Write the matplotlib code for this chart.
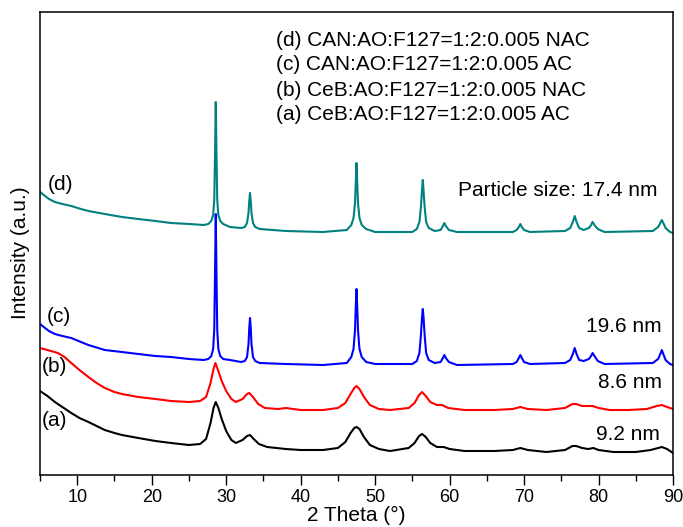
import numpy as np
import matplotlib
matplotlib.use('Agg')
import matplotlib.pyplot as plt

plt.rcParams['font.family'] = ['Liberation Sans', 'DejaVu Sans']

# XRD patterns (2 theta in degrees, intensity in a.u.)
tt_d = [5.0, 5.5, 6.2, 7.0, 8.0, 9.2, 10.5, 11.5, 13.7, 16.0, 18.2, 20.5, 22.6, 25.0,
        27.0, 27.6, 28.0, 28.25, 28.4, 28.5, 28.6, 28.7, 28.8, 28.95, 29.2, 29.6,
        30.5, 32.0, 32.5, 32.8, 33.0, 33.1, 33.2, 33.3, 33.4, 33.6, 33.9, 34.5,
        38.0, 43.0, 46.2, 46.8, 47.1, 47.3, 47.4, 47.5, 47.6, 47.7, 47.9, 48.2,
        48.8, 50.0, 55.0, 55.6, 55.95, 56.15, 56.3, 56.4, 56.5, 56.65, 56.85,
        57.2, 58.0, 58.8, 59.1, 59.3, 59.5, 59.9, 61.0, 68.5, 69.0, 69.3, 69.5,
        69.7, 70.0, 70.8, 75.5, 76.2, 76.55, 76.8, 77.05, 77.4, 78.0, 78.7, 79.0,
        79.2, 79.45, 79.9, 80.8, 87.3, 88.0, 88.3, 88.5, 88.7, 89.0, 89.6, 90.0]
int_d = [283, 280, 276, 273, 271, 269, 266, 264, 261, 258, 256, 254, 252, 251,
         250, 251, 254, 260, 275, 320, 373, 320, 275, 260, 254, 251,
         248, 247, 248, 252, 262, 274, 282, 274, 262, 252, 248, 246,
         244, 243, 245, 250, 257, 272, 292, 312, 292, 272, 257, 250,
         246, 243, 243, 246, 253, 268, 285, 295, 285, 268, 253,
         247, 244, 245, 249, 252, 249, 245, 243, 243, 245, 248, 251,
         248, 245, 243, 244, 247, 253, 259, 253, 247, 245, 247, 250,
         253, 250, 246, 243, 244, 248, 252, 255, 252, 247, 243, 242]

tt_c = [5.0, 5.5, 6.2, 7.0, 8.0, 9.2, 10.5, 11.5, 13.7, 16.0, 18.2, 20.5, 22.6, 25.0,
        27.0, 27.6, 28.0, 28.25, 28.4, 28.5, 28.6, 28.7, 28.8, 28.95, 29.2, 29.6,
        30.5, 32.0, 32.5, 32.8, 33.0, 33.1, 33.2, 33.3, 33.4, 33.6, 33.9, 34.5,
        38.0, 43.0, 46.2, 46.8, 47.1, 47.3, 47.4, 47.5, 47.6, 47.7, 47.9, 48.2,
        48.8, 50.0, 55.0, 55.6, 55.95, 56.15, 56.3, 56.4, 56.5, 56.65, 56.85,
        57.2, 58.0, 58.8, 59.1, 59.3, 59.5, 59.9, 61.0, 68.5, 69.0, 69.3, 69.5,
        69.7, 70.0, 70.8, 75.5, 76.2, 76.55, 76.8, 77.05, 77.4, 78.0, 78.7, 79.0,
        79.2, 79.45, 79.9, 80.8, 87.3, 88.0, 88.3, 88.5, 88.7, 89.0, 89.6, 90.0]
int_c = [151, 148, 144, 141, 139, 137, 133, 130, 125, 123, 121, 119, 118, 116,
         115, 116, 119, 126, 145, 200, 261, 200, 145, 126, 119, 116,
         115, 113, 114, 118, 131, 147, 157, 147, 131, 118, 114, 112,
         111, 110, 112, 118, 126, 145, 168, 186, 168, 145, 126, 118,
         113, 111, 111, 114, 122, 140, 158, 166, 158, 140, 122,
         115, 112, 113, 117, 120, 117, 113, 110, 111, 113, 117, 120,
         117, 113, 111, 112, 115, 121, 127, 121, 115, 114, 116, 119,
         122, 119, 114, 111, 112, 116, 121, 125, 121, 115, 111, 110]

tt_b = [5.0, 6.0, 7.4, 8.3, 9.2, 10.3, 11.5, 12.6, 13.7, 15.0, 16.0, 18.2, 20.5,
        22.6, 25.0, 26.5, 27.3, 27.9, 28.3, 28.55, 28.9, 29.4, 30.0, 30.7, 31.3,
        32.2, 32.8, 33.1, 33.6, 34.3, 35.2, 37.0, 38.0, 40.0, 43.0, 45.0, 46.0,
        46.7, 47.2, 47.5, 47.9, 48.5, 49.3, 50.5, 52.0, 54.5, 55.3, 55.9, 56.3,
        56.8, 57.4, 58.3, 59.0, 59.8, 62.0, 66.0, 68.5, 69.5, 70.5, 73.0, 75.5,
        76.5, 77.0, 77.8, 78.6, 79.2, 80.0, 81.5, 84.0, 86.5, 87.8, 88.5, 89.2, 90.0]
int_b = [127, 125, 122, 118, 112, 105, 98, 92, 87, 83, 81, 78, 76,
         74, 73, 74, 78, 92, 106, 112, 105, 94, 84, 76, 73,
         76, 81, 82, 78, 71, 67, 66, 67, 65, 65, 67, 72,
         81, 87, 89, 86, 78, 70, 66, 65, 67, 72, 80, 83,
         79, 73, 70, 70, 67, 65, 65, 66, 68, 66, 65, 67,
         71, 71, 69, 69, 69, 67, 65, 65, 66, 69, 70, 68, 66]

tt_a = [5.0, 6.0, 7.0, 8.0, 9.2, 10.3, 11.5, 12.6, 13.7, 15.0, 16.0, 18.2, 20.5,
        22.6, 25.0, 26.5, 27.3, 27.9, 28.3, 28.6, 28.95, 29.4, 30.0, 30.7, 31.3,
        32.2, 32.8, 33.2, 33.7, 34.4, 35.5, 38.0, 40.0, 43.0, 45.0, 46.0, 46.7,
        47.2, 47.5, 47.9, 48.5, 49.3, 50.5, 52.0, 54.5, 55.3, 55.9, 56.3, 56.8,
        57.4, 58.3, 59.2, 60.0, 62.0, 66.0, 68.5, 69.5, 70.5, 73.0, 75.5, 76.5,
        77.0, 77.8, 78.6, 79.3, 80.0, 82.0, 85.0, 87.0, 88.0, 88.5, 89.2, 90.0]
int_a = [84, 79, 73, 68, 62, 57, 53, 49, 45, 42, 40, 37, 34,
         32, 30, 31, 36, 52, 67, 73, 67, 56, 44, 35, 32,
         35, 39, 40, 36, 31, 28, 26, 25, 25, 27, 33, 42,
         47, 48, 46, 38, 30, 26, 24, 27, 32, 39, 41, 38,
         32, 28, 28, 26, 24, 24, 25, 27, 25, 23, 25, 29,
         29, 27, 26, 27, 25, 23, 23, 25, 27, 28, 26, 22]

legend_lines = ['(d) CAN:AO:F127=1:2:0.005 NAC',
                '(c) CAN:AO:F127=1:2:0.005 AC',
                '(b) CeB:AO:F127=1:2:0.005 NAC',
                '(a) CeB:AO:F127=1:2:0.005 AC']
sizes = ['Particle size: 17.4 nm', '19.6 nm', '8.6 nm', '9.2 nm']

fig = plt.figure(figsize=(6.83, 5.27), dpi=100)
ax = fig.add_axes([40/683, 52/527, 633/683, 463/527])

ax.plot(tt_a, int_a, color='black', lw=1.5)
ax.plot(tt_b, int_b, color='red', lw=1.5)
ax.plot(tt_c, int_c, color='blue', lw=1.5)
ax.plot(tt_d, int_d, color='#008080', lw=1.5)

ax.set_xlim(5, 90)
ax.set_ylim(0, 463)
ax.set_xticks(np.arange(10, 91, 10))
ax.set_xticks(np.arange(5, 91, 10), minor=True)
ax.set_yticks([])
ax.tick_params(axis='x', which='major', direction='out', length=7, width=1,
               labelsize=13, pad=3)
ax.tick_params(axis='x', which='minor', direction='out', length=4.5, width=1)
for s in ax.spines.values():
    s.set_linewidth(1.1)

ax.set_xlabel('2 Theta (°)', fontsize=15, labelpad=0)
ax.set_ylabel('Intensity (a.u.)', fontsize=15)
ax.yaxis.set_label_coords(-0.016, 0.48)

# sample description block
for i, t in enumerate(legend_lines):
    ax.text(36.7, [434, 410, 385, 361][i], t, fontsize=15, va='center', ha='left')

# curve labels
ax.text(6.0, 291, '(d)', fontsize=15, va='center')
ax.text(5.9, 158, '(c)', fontsize=15, va='center')
ax.text(5.2, 109, '(b)', fontsize=15, va='center')
ax.text(5.2, 54, '(a)', fontsize=15, va='center')

# crystallite sizes
ax.text(87.9, 284, sizes[0], fontsize=15, va='center', ha='right')
ax.text(88.5, 148, sizes[1], fontsize=15, va='center', ha='right')
ax.text(88.5, 92, sizes[2], fontsize=15, va='center', ha='right')
ax.text(88.2, 40, sizes[3], fontsize=15, va='center', ha='right')

fig.savefig('out.png', dpi=100)
